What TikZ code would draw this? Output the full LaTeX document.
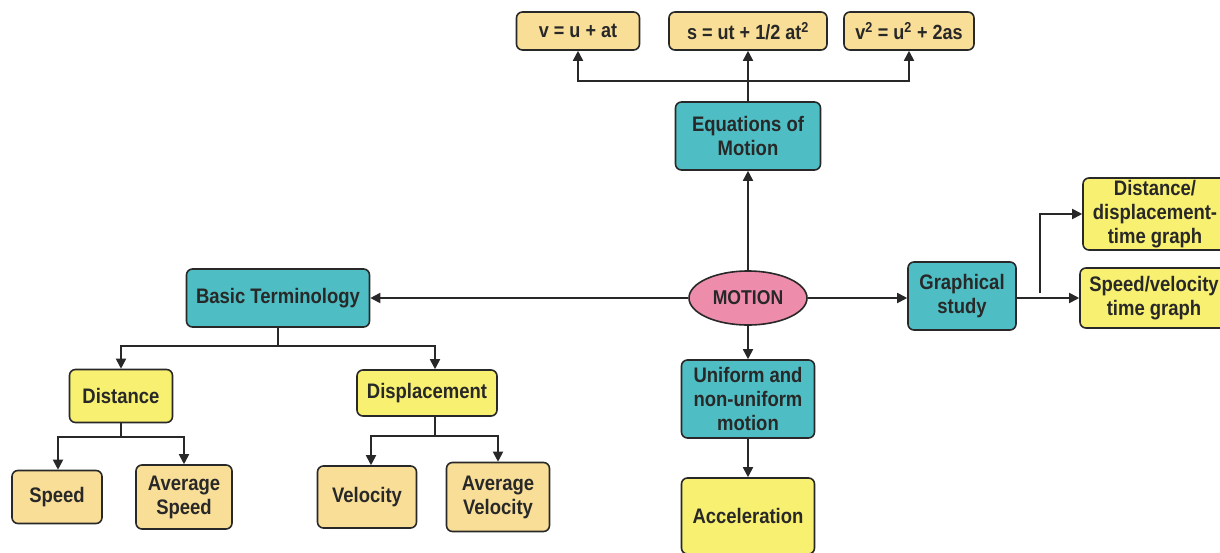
\documentclass[tikz,border=0pt]{standalone}
\usepackage{fontspec}
\setmainfont{Liberation Sans}[FakeStretch=0.88]
\usetikzlibrary{arrows.meta,shapes.geometric}
\definecolor{teal1}{RGB}{78,190,196}
\definecolor{yel1}{RGB}{248,240,112}
\definecolor{tan1}{RGB}{249,222,152}
\definecolor{pink1}{RGB}{238,140,172}
\definecolor{ink}{RGB}{40,40,40}
\tikzset{
  base/.style={draw=ink, line width=1.6pt, rounded corners=6pt, inner sep=0pt, align=center, text=ink,
    font=\bfseries\fontsize{21}{24}\selectfont},
  tealbox/.style={base, fill=teal1},
  yelbox/.style={base, fill=yel1},
  tanbox/.style={base, fill=tan1},
  eqbox/.style={base, fill=tan1, font=\bfseries\fontsize{20.5}{23}\selectfont},
  conn/.style={draw=ink, line width=1.8pt},
  arr/.style={conn, -{Triangle[length=10pt,width=10pt]}},
}
\begin{document}
\begin{tikzpicture}[x=1pt,y=-1pt]
\useasboundingbox[fill=white] (0,0) rectangle (1220,552);
% nodes
\node[eqbox, minimum width=123pt, minimum height=38pt] (v1) at (578,31) {v = u + at};
\node[eqbox, minimum width=158pt, minimum height=38pt] (s1) at (748,31) {s = ut + 1/2 at\textsuperscript{2}};
\node[eqbox, minimum width=130pt, minimum height=38pt] (v2) at (909,31) {v\textsuperscript{2} = u\textsuperscript{2} + 2as};
\node[tealbox, minimum width=145pt, minimum height=68pt] (eq) at (748,136) {Equations of\\Motion};
\node[ellipse, draw=ink, line width=1.6pt, fill=pink1, text=ink, inner sep=0pt,
  minimum width=118pt, minimum height=54pt, font=\bfseries\fontsize{20}{23}\selectfont] (mo) at (748,298) {MOTION};
\node[tealbox, minimum width=183pt, minimum height=58pt] (bt) at (278,298) {Basic Terminology};
\node[tealbox, minimum width=108pt, minimum height=68pt] (gs) at (962,296) {Graphical\\study};
\node[yelbox, minimum width=144pt, minimum height=72pt] (ddt) at (1155,214) {Distance/\\displacement-\\time graph};
\node[yelbox, minimum width=148pt, minimum height=60pt] (svt) at (1154,298) {Speed/velocity\\time graph};
\node[tealbox, minimum width=133pt, minimum height=78pt] (un) at (748,399) {Uniform and\\non-uniform\\motion};
\node[yelbox, minimum width=133pt, minimum height=76pt] (ac) at (748,516) {Acceleration};
\node[yelbox, minimum width=103pt, minimum height=53pt] (di) at (121,396) {Distance};
\node[yelbox, minimum width=140pt, minimum height=46pt] (dp) at (427,393) {Displacement};
\node[tanbox, minimum width=90pt, minimum height=53pt] (sp) at (57,497) {Speed};
\node[tanbox, minimum width=96pt, minimum height=64pt] (as) at (184,497) {Average\\Speed};
\node[tanbox, minimum width=99pt, minimum height=62pt] (ve) at (367,497) {Velocity};
\node[tanbox, minimum width=103pt, minimum height=69pt] (av) at (498,497) {Average\\Velocity};
% junctions
\coordinate (j1) at (748,81);
\coordinate (j2) at (278,346);
\coordinate (j3) at (121,437);
\coordinate (j4) at (435,436);
\coordinate (j5) at (1040,298);
% connectors
\draw[conn] (eq.north) -- (j1);
\draw[arr] (j1) -- (s1.south);
\draw[arr] (j1) -| (v1.south);
\draw[arr] (j1) -| (v2.south);
\draw[arr] (mo.north) -- (eq.south);
\draw[arr] (mo.west) -- (mo.west -| bt.east);
\draw[arr] (mo.east) -- (mo.east -| gs.west);
\draw[arr] (mo.south) -- (un.north);
\draw[arr] (un.south) -- (ac.north);
\draw[arr] (gs.east |- j5) -- (svt.west |- j5);
\draw[arr] ([yshift=5pt]j5) |- (ddt.west);
\draw[conn] (bt.south) -- (j2);
\draw[arr] (j2) -| (di.north);
\draw[arr] (j2) -| (j4 |- dp.north);
\draw[conn] (di.south) -- (j3);
\draw[arr] (j3) -| ([xshift=1pt]sp.north);
\draw[arr] (j3) -| (as.north);
\draw[conn] (j4 |- dp.south) -- (j4);
\draw[arr] (j4) -| ([xshift=4pt]ve.north);
\draw[arr] (j4) -| (av.north);
\end{tikzpicture}
\end{document}
